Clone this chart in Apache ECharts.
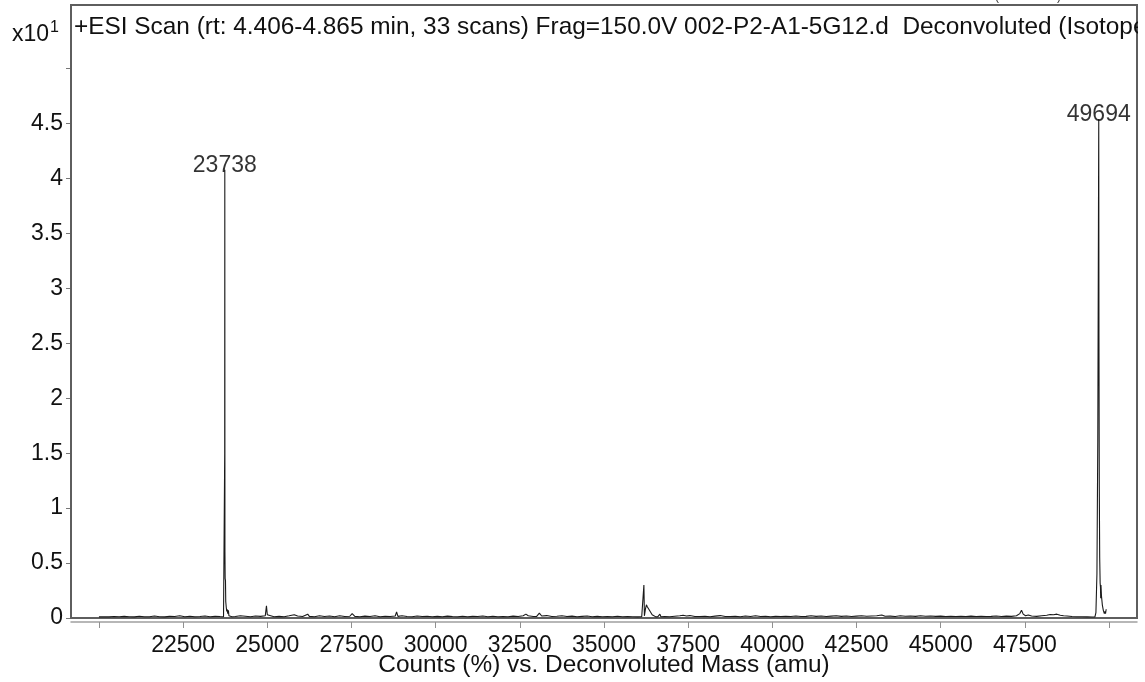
<!DOCTYPE html>
<html>
<head>
<meta charset="utf-8">
<script src="https://cdn.jsdelivr.net/npm/echarts@6/dist/echarts.min.js"></script>
<style>
html,body{margin:0;padding:0;background:#fff;}
#chart{width:1145px;height:682px;}
</style>
</head>
<body>
<div id="chart"></div>
<script>
// ---- Data (counts in units of x10^1 %) ----
const titleText = "+ESI Scan (rt: 4.406-4.865 min, 33 scans) Frag=150.0V 002-P2-A1-5G12.d  Deconvoluted (Isotope Width=14.1)";
const xAxisTitle = "Counts (%) vs. Deconvoluted Mass (amu)";
const xTickValues = [20000, 22500, 25000, 27500, 30000, 32500, 35000, 37500, 40000, 42500, 45000, 47500, 50000];
const xLabelValues = [22500, 25000, 27500, 30000, 32500, 35000, 37500, 40000, 42500, 45000, 47500];
const yTickValues = [0, 0.5, 1, 1.5, 2, 2.5, 3, 3.5, 4, 4.5, 5];
const yLabelValues = [0, 0.5, 1, 1.5, 2, 2.5, 3, 3.5, 4, 4.5];

const baseline1 = [
  [20000,0.01],[20150,0.012],[20300,0.01],[20450,0.014],[20600,0.011],[20750,0.015],[20900,0.012],
  [21050,0.01],[21200,0.016],[21350,0.012],[21500,0.011],[21650,0.018],[21800,0.012],[21950,0.01],
  [22100,0.015],[22250,0.013],[22400,0.02],[22550,0.012],[22700,0.016],[22850,0.011],[23000,0.014],
  [23150,0.018],[23300,0.012],[23450,0.015],[23600,0.013],[23700,0.012]
];
const peak1 = [
  [23725,0.02],[23735,1.5],[23738,4.08],[23742,0.6],[23748,0.36],[23758,0.34],[23766,0.15],
  [23780,0.1],[23795,0.06],[23810,0.08],[23825,0.04],[23845,0.07],[23860,0.02],[23900,0.015],[23950,0.012]
];
const baseline2 = [
  [24050,0.014],[24200,0.02],[24350,0.016],[24500,0.012],[24650,0.018],[24800,0.015],[24940,0.02],
  [24975,0.11],[25000,0.03],[25050,0.018],[25200,0.012],[25350,0.015],[25500,0.012],[25650,0.02],
  [25800,0.03],[25900,0.018],[26050,0.013],[26200,0.035],[26250,0.015],[26400,0.012],[26550,0.02],
  [26700,0.014],[26850,0.018],[27000,0.012],[27150,0.02],[27300,0.014],[27450,0.016],[27520,0.04],
  [27600,0.015],[27750,0.012],[27900,0.017],[28050,0.013],[28200,0.02],[28350,0.012],[28500,0.016],
  [28650,0.014],[28800,0.018],[28840,0.055],[28880,0.015],[29000,0.02],[29150,0.014],[29300,0.012],
  [29450,0.018],[29600,0.013],[29750,0.016],[29900,0.011],[30050,0.015],[30200,0.012],[30350,0.017],
  [30500,0.013],[30650,0.011],[30800,0.016],[30950,0.012],[31100,0.015],[31250,0.013],[31400,0.018],
  [31550,0.012],[31700,0.016],[31850,0.011],[32000,0.014],[32150,0.012],[32300,0.017],[32450,0.013],
  [32600,0.02],[32680,0.035],[32750,0.02],[32900,0.014],[33000,0.015],[33080,0.045],[33150,0.018],
  [33300,0.022],[33450,0.014],[33600,0.016],[33750,0.02],[33900,0.013],[34050,0.017],[34200,0.012],
  [34350,0.015],[34500,0.018],[34650,0.012],[34800,0.015],[34950,0.011],[35100,0.014],[35250,0.012],
  [35400,0.016],[35550,0.011],[35700,0.014],[35850,0.012],[36000,0.01],[36120,0.012]
];
const peak2 = [
  [36170,0.015],[36185,0.3],[36200,0.02],[36230,0.08],[36260,0.12],[36290,0.1],[36320,0.095],
  [36350,0.07],[36390,0.05],[36430,0.03],[36480,0.015],[36540,0.01],[36600,0.012],[36660,0.035],[36690,0.012]
];
const baseline3 = [
  [36800,0.013],[36950,0.012],[37100,0.016],[37250,0.02],[37350,0.025],[37450,0.018],[37550,0.022],
  [37700,0.014],[37850,0.013],[38000,0.016],[38150,0.012],[38300,0.017],[38450,0.022],[38600,0.014],
  [38750,0.013],[38900,0.016],[39050,0.012],[39200,0.018],[39350,0.014],[39500,0.02],[39650,0.013],
  [39800,0.016],[39950,0.012],[40100,0.015],[40250,0.013],[40400,0.016],[40550,0.014],[40700,0.018],
  [40850,0.013],[41000,0.015],[41150,0.02],[41300,0.015],[41450,0.018],[41600,0.014],[41750,0.017],
  [41900,0.02],[42050,0.015],[42200,0.018],[42350,0.014],[42500,0.017],[42650,0.02],[42800,0.016],
  [42950,0.018],[43100,0.02],[43250,0.028],[43350,0.016],[43500,0.017],[43650,0.014],[43800,0.02],
  [43950,0.016],[44100,0.018],[44250,0.015],[44400,0.02],[44550,0.016],[44700,0.018],[44850,0.015],
  [45000,0.017],[45150,0.014],[45300,0.016],[45450,0.013],[45600,0.016],[45750,0.014],[45900,0.017],
  [46050,0.013],[46200,0.016],[46350,0.014],[46500,0.015],[46650,0.018],[46800,0.014],[46950,0.017],
  [47100,0.015],[47250,0.02],[47350,0.04],[47400,0.07],[47450,0.035],[47520,0.02],[47600,0.028],
  [47700,0.018],[47850,0.015],[48000,0.02],[48150,0.025],[48250,0.032],[48350,0.03],[48450,0.035],
  [48550,0.025],[48650,0.02],[48750,0.018],[48900,0.014],[49050,0.012],[49200,0.011],[49350,0.01],
  [49500,0.009],[49580,0.01]
];
const peak3 = [
  [49610,0.05],[49640,0.4],[49665,1.6],[49685,3.6],[49694,4.54],[49700,2.6],[49710,1.2],[49722,0.55],
  [49735,0.32],[49745,0.28],[49752,0.18],[49760,0.3],[49775,0.2],[49800,0.12],[49830,0.07],
  [49860,0.04],[49880,0.06],[49895,0.04],[49915,0.08]
];
const peakMasses = [23738, 49694];
const peakHeights = [4.08, 4.54];

const spectrum = [].concat(baseline1, peak1, baseline2, peak2, baseline3, peak3);
const labelPoints = peakMasses.map((m, i) => [m, peakHeights[i]]);

const FONT = "'Liberation Sans', Arial, sans-serif";
const chart = echarts.init(document.getElementById('chart'), null, {renderer: 'canvas'});
chart.setOption({
  animation: false,
  backgroundColor: '#ffffff',
  grid: {left: 71, right: 8, top: 40, bottom: 64, containLabel: false, outerBoundsMode: 'none'},
  xAxis: {
    type: 'value', min: 19170, max: 50830, offset: 4,
    name: xAxisTitle, nameLocation: 'middle', nameGap: 31, nameMoveOverlap: false,
    nameTextStyle: {fontFamily: FONT, fontSize: 24.4, color: '#111'},
    splitLine: {show: false},
    axisLine: {show: true, onZero: false, lineStyle: {color: '#a0a0a0', width: 1.5}},
    axisTick: {show: true, length: 6, customValues: xTickValues, lineStyle: {color: '#909090', width: 1}},
    axisLabel: {customValues: xLabelValues, formatter: v => String(v),
                fontFamily: FONT, fontSize: 23, color: '#111', margin: 12}
  },
  yAxis: {
    type: 'value', min: 0, max: 5.26,
    splitLine: {show: false},
    axisLine: {show: true, lineStyle: {color: '#444', width: 2}},
    axisTick: {show: true, length: 5, customValues: yTickValues, lineStyle: {color: '#777', width: 1}},
    axisLabel: {customValues: yLabelValues, formatter: v => String(v),
                fontFamily: FONT, fontSize: 23, color: '#111', margin: 8}
  },
  series: [
    {
      type: 'line', data: spectrum, showSymbol: false, symbol: 'none', sampling: null,
      lineStyle: {color: '#1a1a1a', width: 1.1}, z: 3
    },
    {
      type: 'scatter', data: labelPoints, symbolSize: 0, silent: true, z: 4,
      label: {
        show: true, position: 'top', distance: 0, offset: [0, 7],
        formatter: p => String(p.value[0]),
        fontFamily: FONT, fontSize: 23, color: '#000'
      }
    }
  ],
  graphic: [
    {type: 'rect', z: 1, shape: {x: 71, y: 5, width: 1066, height: 613},
     style: {fill: null, stroke: '#5e5e5e', lineWidth: 2}},
    {type: 'text', z: 5, left: 74, top: 15,
     style: {text: titleText, fontFamily: FONT, fontSize: 24.4, fill: '#111'}},
    {type: 'rect', z: 6, shape: {x: 1138, y: 0, width: 7, height: 60}, style: {fill: '#fff'}},
    {type: 'text', z: 5, left: 995, top: -9,
     style: {text: '(UTC 07:00)', fontFamily: FONT, fontSize: 12, fill: '#333'}},
    {type: 'text', z: 5, left: 12, top: 20,
     style: {text: '{a|x10}{b|1}', rich: {
       a: {fontFamily: FONT, fontSize: 23, fill: '#111', verticalAlign: 'bottom'},
       b: {fontFamily: FONT, fontSize: 16, fill: '#111', verticalAlign: 'top', padding: [0,0,10,1]}
     }}}
  ]
});
</script>
</body>
</html>
